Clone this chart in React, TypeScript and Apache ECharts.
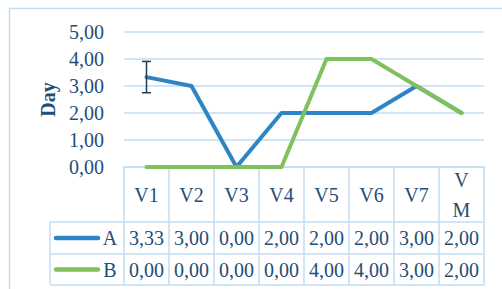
import React, { useEffect, useRef } from "react";
import * as echarts from "echarts";

const categories = ["V1", "V2", "V3", "V4", "V5", "V6", "V7", "VM"];
const seriesNames = ["A", "B"];
const seriesA = [3.33, 3.0, 0.0, 2.0, 2.0, 2.0, 3.0, 2.0];
const seriesB = [0.0, 0.0, 0.0, 0.0, 4.0, 4.0, 3.0, 2.0];
const errorA = [0.58, 0, 0, 0, 0, 0, 0, 0];
const yMin = 0;
const yMax = 5;
const yInterval = 1;

const COLORS = ["#2d85c5", "#80c15d"];
const TEXT = "#1f4e79";
const LINE = "#c3ddf1";
const FONT = "'Liberation Serif', 'Times New Roman', serif";
const FS = 20;

const fmt = (v: number) => v.toFixed(2).replace(".", ",");

export default function App() {
  const ref = useRef<HTMLDivElement>(null);
  useEffect(() => {
    if (!ref.current) return;
    const chart = echarts.init(ref.current, null, { renderer: "svg" });
    const values = [seriesA, seriesB];
    chart.setOption({
      animation: false,
      grid: { left: 124, right: 18, top: 32, bottom: 122 },
      xAxis: {
        type: "category",
        data: categories,
        boundaryGap: true,
        axisLine: { show: true, lineStyle: { color: LINE, width: 1.5 } },
        axisTick: { show: false },
        axisLabel: {
          color: TEXT,
          fontFamily: FONT,
          fontSize: FS,
          margin: 28,
          verticalAlign: "middle",
          lineHeight: 30,
          width: 28,
          overflow: "breakAll",
          interval: 0,
        },
      },
      yAxis: {
        type: "value",
        min: yMin,
        max: yMax,
        interval: yInterval,
        name: "Day",
        nameLocation: "middle",
        nameRotate: 90,
        nameGap: 63,
        nameTextStyle: { color: TEXT, fontFamily: FONT, fontSize: FS, fontWeight: "bold" },
        axisLine: { show: false },
        axisTick: { show: false },
        splitLine: { lineStyle: { color: LINE, width: 1.5 } },
        axisLabel: { color: TEXT, fontFamily: FONT, fontSize: FS, margin: 20, formatter: (v: number) => fmt(v) },
      },
      series: [
        ...values.map((d, i) => ({
          name: seriesNames[i],
          type: "line",
          data: d,
          showSymbol: false,
          symbol: "none",
          lineStyle: { color: COLORS[i], width: 4, cap: "round", join: "round" },
          z: 3 + i,
        })),
        {
          type: "custom",
          z: 10,
          data: seriesA.map((v, i) => [i, v, errorA[i]]).filter((d) => d[2] > 0),
          renderItem: (params: any, api: any) => {
            const x = api.value(0);
            const v = api.value(1);
            const e = api.value(2);
            const top = api.coord([x, v + e]);
            const bot = api.coord([x, v - e]);
            const style = { stroke: "#1f3b5c", lineWidth: 1.5 };
            return {
              type: "group",
              children: [
                { type: "line", shape: { x1: top[0], y1: top[1], x2: bot[0], y2: bot[1] }, style },
                { type: "line", shape: { x1: top[0] - 4.5, y1: top[1], x2: top[0] + 4.5, y2: top[1] }, style },
                { type: "line", shape: { x1: bot[0] - 4.5, y1: bot[1], x2: bot[0] + 4.5, y2: bot[1] }, style },
              ],
            };
          },
        },
      ],
    });

    // data table under the axis
    const centers = categories.map((_, i) => chart.convertToPixel({ xAxisIndex: 0 }, i) as number);
    const cw = centers.length > 1 ? centers[1] - centers[0] : 45;
    const x0 = centers[0] - cw / 2;
    const x1 = centers[centers.length - 1] + cw / 2;
    const yAxisBase = chart.convertToPixel({ yAxisIndex: 0 }, 0) as number;
    const headerH = 55;
    const rowH = [32, 31];
    const rowTop = [yAxisBase + headerH, yAxisBase + headerH + rowH[0]];
    const tableBottom = rowTop[1] + rowH[1];
    const legendLeft = 50;
    const ls = { stroke: LINE, lineWidth: 1.5 };
    const els: any[] = [];
    els.push({ type: "rect", shape: { x: 9.5, y: 8.5, width: 600, height: 400 }, style: { fill: "none", stroke: LINE, lineWidth: 1.5 }, silent: true });
    for (let i = 0; i <= categories.length; i++) {
      const x = x0 + i * cw;
      els.push({ type: "line", shape: { x1: x, y1: yAxisBase, x2: x, y2: tableBottom }, style: ls });
    }
    els.push({ type: "line", shape: { x1: legendLeft, y1: rowTop[0], x2: legendLeft, y2: tableBottom }, style: ls });
    [rowTop[0], rowTop[1], tableBottom].forEach((y) =>
      els.push({ type: "line", shape: { x1: legendLeft, y1: y, x2: x1, y2: y }, style: ls })
    );
    values.forEach((d, r) => {
      const cy = rowTop[r] + rowH[r] / 2;
      els.push({
        type: "line",
        shape: { x1: legendLeft + 6, y1: cy, x2: legendLeft + 48, y2: cy },
        style: { stroke: COLORS[r], lineWidth: 4.5, lineCap: "round" },
      });
      els.push({
        type: "text",
        x: legendLeft + 60,
        y: cy,
        style: { text: seriesNames[r], fill: TEXT, font: `${FS}px ${FONT}`, align: "center", verticalAlign: "middle" },
      });
      d.forEach((v, i) => {
        els.push({
          type: "text",
          x: centers[i],
          y: cy,
          style: { text: fmt(v), fill: TEXT, font: `${FS}px ${FONT}`, align: "center", verticalAlign: "middle" },
        });
      });
    });
    chart.setOption({ graphic: { elements: els } });

    return () => chart.dispose();
  }, []);
  return <div ref={ref} style={{ width: 502, height: 289, position: "absolute", left: 0, top: 0 }} />;
}
